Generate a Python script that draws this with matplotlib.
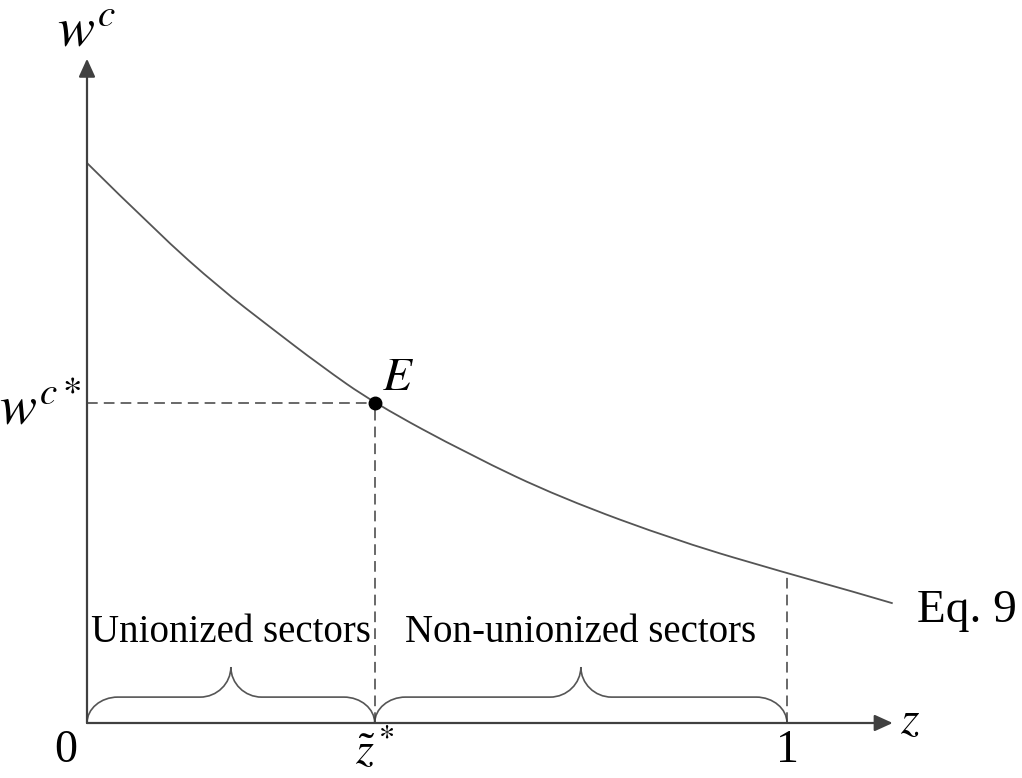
import matplotlib.pyplot as plt
from matplotlib.path import Path
from matplotlib.patches import PathPatch

plt.rcParams['mathtext.fontset'] = 'stix'
plt.rcParams['font.family'] = ['Liberation Serif', 'DejaVu Serif']

# curve (Eq. 9)
z_vals = [0.0, 0.100, 0.190, 0.261, 0.333, 0.410, 0.547, 0.676, 0.847, 1.0, 1.090, 1.151]
w_vals = [0.800, 0.701, 0.621, 0.566, 0.511, 0.457, 0.383, 0.322, 0.259, 0.214, 0.189, 0.171]

z_star = 0.411
w_star = 0.457
w_at_one = 0.214

sectors = ['Unionized sectors', 'Non-unionized sectors']
bounds = [0.0, z_star, 1.0]

fig = plt.figure(figsize=(10.22, 7.78), dpi=100)
ax = fig.add_axes([0, 0, 1, 1])
ax.set_xlim(-87 / 700, (1022 - 87) / 700)
ax.set_ylim(-55 / 700, 723 / 700)
ax.axis('off')

axis_col = '#404040'
line_col = '#555555'

# axes with arrow heads
arrow = dict(arrowstyle='-|>,head_length=0.55,head_width=0.25', mutation_scale=20,
             color=axis_col, lw=1.6, shrinkA=0, shrinkB=0)
ax.annotate('', xy=(1.151, 0), xytext=(0, 0), arrowprops=arrow)
ax.annotate('', xy=(0, 0.949), xytext=(0, 0), arrowprops=arrow)

# curve, smoothed through the read points (quadratic pieces via midpoints)
pts = list(zip(z_vals, w_vals))
verts = [pts[0]]
codes = [Path.MOVETO]
for i in range(1, len(pts) - 1):
    mid = ((pts[i][0] + pts[i + 1][0]) / 2, (pts[i][1] + pts[i + 1][1]) / 2)
    if i == len(pts) - 2:
        mid = pts[-1]
    verts += [pts[i], mid]
    codes += [Path.CURVE3, Path.CURVE3]
ax.add_patch(PathPatch(Path(verts, codes), fill=False, edgecolor=line_col, lw=1.3))

# dashed guides
dash = dict(color=axis_col, lw=1.1, linestyle=(0, (7, 4)))
ax.plot([0, z_star], [w_star, w_star], **dash)
ax.plot([z_star, z_star], [0, w_star], **dash)
ax.plot([1, 1], [0, w_at_one], **dash)

# point E
ax.plot([z_star], [w_star], 'o', color='black', ms=9)
ax.text(z_star + 0.01, 0.476, r'$E$', fontsize=34, ha='left', va='baseline')


# braces
def brace(x0, x1, yf=0.037, yt=0.080, dx=0.044):
    xm = (x0 + x1) / 2
    verts = [(x0, 0),
             (x0, yf * 0.55), (x0 + dx * 0.45, yf), (x0 + dx, yf),
             (xm - dx, yf),
             (xm - dx * 0.45, yf), (xm, yf + (yt - yf) * 0.45), (xm, yt),
             (xm, yf + (yt - yf) * 0.45), (xm + dx * 0.45, yf), (xm + dx, yf),
             (x1 - dx, yf),
             (x1 - dx * 0.45, yf), (x1, yf * 0.55), (x1, 0)]
    codes = [Path.MOVETO,
             Path.CURVE4, Path.CURVE4, Path.CURVE4,
             Path.LINETO,
             Path.CURVE4, Path.CURVE4, Path.CURVE4,
             Path.CURVE4, Path.CURVE4, Path.CURVE4,
             Path.LINETO,
             Path.CURVE4, Path.CURVE4, Path.CURVE4]
    ax.add_patch(PathPatch(Path(verts, codes), fill=False, edgecolor=line_col, lw=1.2))


for i, name in enumerate(sectors):
    brace(bounds[i], bounds[i + 1])
    ax.text((bounds[i] + bounds[i + 1]) / 2, 0.116, name, fontsize=28,
            ha='center', va='baseline')

# axis labels
ax.text(-0.043, 0.966, r'$w^c$', fontsize=40, ha='left', va='baseline')
ax.text(-0.008, w_star - 0.01, r'$w^{c*}$', fontsize=40, ha='right', va='center')
ax.text(1.161, 0.002, r'$z$', fontsize=34, ha='left', va='center')
ax.text(-0.03, -0.04, '0', fontsize=33, ha='center', va='center')
ax.text(z_star, -0.04, r'$\tilde{z}^*$', fontsize=33, ha='center', va='center')
ax.text(1.0, -0.04, '1', fontsize=33, ha='center', va='center')
ax.text(1.186, 0.145, 'Eq. 9', fontsize=34, ha='left', va='baseline')

fig.savefig('out.png', dpi=100)
